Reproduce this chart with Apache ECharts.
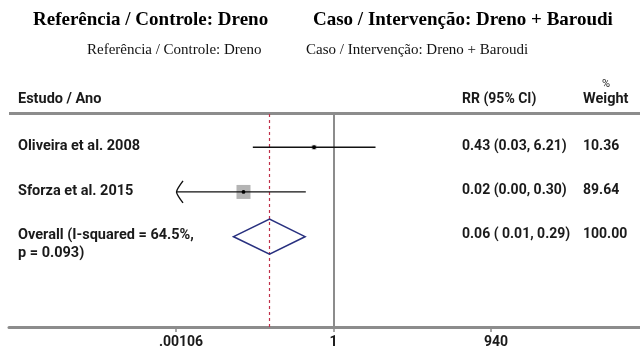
<!DOCTYPE html>
<html>
<head>
<meta charset="utf-8">
<script src="https://cdn.jsdelivr.net/npm/echarts@6/dist/echarts.min.js"></script>
<style>html,body{margin:0;padding:0;background:#fff}#c{width:640px;height:351px}</style>
</head>
<body>
<div id="c"></div>
<script>
// ---- data ----
const studies = ['Oliveira et al. 2008', 'Sforza et al. 2015'];
const rr = [0.43, 0.02];
const ciLow = [0.03, 0.00];
const ciHigh = [6.21, 0.30];
const weights = [10.36, 89.64];
const rrText = ['0.43 (0.03, 6.21)', '0.02 (0.00, 0.30)'];
const weightText = ['10.36', '89.64'];
const overallLabel = ['Overall (I-squared = 64.5%,', 'p = 0.093)'];
const overallRR = 0.062;
const overallLow = 0.013;
const overallHigh = 0.29;
const overallText = '0.06 ( 0.01, 0.29)';
const overallWeight = '100.00';
const tickLabels = ['.00106', '1', '940'];
const axisMin = 1 / 940;
const axisMax = 940;

const SANS = 'Roboto';
const SERIF = '"Liberation Serif", "Times New Roman", serif';
const chart = echarts.init(document.getElementById('c'), null, {renderer: 'canvas'});

const studyData = studies.map((s, i) => [rr[i], ciLow[i], ciHigh[i], i + 1, weights[i]]);
const maxW = Math.max(...weights);
const overallRow = studies.length + 1;

const textStyleBody = {fontFamily: SANS, fontSize: 14, fontWeight: 'bold', fill: '#1a1a1a'};
const textStyleWords = Object.assign({}, textStyleBody, {fontSize: 14.5});

const option = {
  animation: false,
  backgroundColor: '#fff',
  grid: [
    {left: 176, right: 149, top: 114, bottom: 24},
    {left: 9, right: 0, top: 114, bottom: 24}
  ],
  xAxis: [
    {
      type: 'log', logBase: 940, min: axisMin, max: axisMax, gridIndex: 0,
      axisLine: {show: false},
      axisTick: {show: true, length: 5, lineStyle: {color: '#8c8c8c', width: 1.5}},
      splitLine: {show: false},
      axisLabel: {
        margin: 8, color: '#1a1a1a', fontFamily: SANS, fontSize: 14, fontWeight: 'bold',
        formatter: (v, idx) => {
          const t = tickLabels[idx] !== undefined ? tickLabels[idx] : '';
          return idx === 1 ? t : '{s|' + t + '}';
        },
        rich: {s: {padding: [0, 0, 0, 10], fontFamily: SANS, fontSize: 14, fontWeight: 'bold', color: '#1a1a1a'}}
      }
    },
    {
      type: 'value', gridIndex: 1, min: 0, max: 1,
      axisLine: {show: true, lineStyle: {color: '#8c8c8c', width: 3}},
      axisTick: {show: false}, axisLabel: {show: false}, splitLine: {show: false}
    }
  ],
  yAxis: [
    {type: 'value', inverse: true, min: 0.256, max: 5.022, gridIndex: 0, show: false},
    {type: 'value', gridIndex: 1, show: false}
  ],
  graphic: [
    {type: 'text', left: 33, top: 11, style: {text: 'Referência / Controle: Dreno', font: 'bold 19px ' + SERIF, fill: '#000'}},
    {type: 'text', left: 313, top: 11, style: {text: 'Caso / Intervenção: Dreno + Baroudi', font: 'bold 19px ' + SERIF, fill: '#000'}},
    {type: 'text', left: 87, top: 43, style: {text: 'Referência / Controle: Dreno', font: '15px ' + SERIF, fill: '#111'}},
    {type: 'text', left: 306, top: 43, style: {text: 'Caso / Intervenção: Dreno + Baroudi', font: '15px ' + SERIF, fill: '#111'}},
    {type: 'text', x: 18, y: 99, style: Object.assign({text: 'Estudo / Ano', verticalAlign: 'middle'}, textStyleWords)},
    {type: 'text', x: 462, y: 99, style: Object.assign({text: 'RR (95% CI)', verticalAlign: 'middle'}, textStyleBody)},
    {type: 'text', x: 606, y: 84, style: Object.assign({text: '%', verticalAlign: 'middle', align: 'center'}, textStyleBody, {fontSize: 11, fontWeight: 'normal'})},
    {type: 'text', x: 583, y: 99, style: Object.assign({text: 'Weight', verticalAlign: 'middle'}, textStyleWords)},
    {type: 'line', shape: {x1: 9, y1: 113.5, x2: 640, y2: 113.5}, style: {stroke: '#8c8c8c', lineWidth: 3}}
  ],
  series: [
    {
      type: 'custom', name: 'studies', xAxisIndex: 0, yAxisIndex: 0, clip: false, z: 5,
      data: studyData,
      renderItem: (params, api) => {
        const est = api.value(0), lo = api.value(1), hi = api.value(2), row = api.value(3), w = api.value(4);
        const clippedLo = lo < axisMin;
        const pLo = api.coord([clippedLo ? axisMin : lo, row]);
        const pHi = api.coord([hi, row]);
        const pc = api.coord([est, row]);
        const side = 14 * Math.sqrt(w / maxW);
        const children = [
          {type: 'rect', shape: {x: pc[0] - side / 2, y: pc[1] - side / 2, width: side, height: side}, style: {fill: '#b4b4b4'}},
          {type: 'line', shape: {x1: pLo[0], y1: pLo[1], x2: pHi[0], y2: pHi[1]}, style: {stroke: '#111', lineWidth: 1.3}},
          {type: 'circle', shape: {cx: pc[0], cy: pc[1], r: 1.9}, style: {fill: '#000'}}
        ];
        if (clippedLo) {
          children.push({type: 'polyline', shape: {points: [[pLo[0] + 7, pLo[1] - 11], [pLo[0] + 0.5, pLo[1]], [pLo[0] + 7, pLo[1] + 11]], smooth: 0.2}, style: {stroke: '#111', lineWidth: 1.4, fill: null}});
        }
        return {type: 'group', children};
      },
      markLine: {
        silent: true, symbol: 'none', z: 1, label: {show: false},
        lineStyle: {color: '#8c8c8c', width: 2, type: 'solid'},
        data: [{xAxis: 1}]
      }
    },
    {
      type: 'custom', name: 'overall', xAxisIndex: 0, yAxisIndex: 0, clip: false, z: 6,
      data: [[overallRR, overallLow, overallHigh, overallRow]],
      renderItem: (params, api) => {
        const row = api.value(3);
        const pc = api.coord([api.value(0), row]);
        const pl = api.coord([api.value(1), row]);
        const ph = api.coord([api.value(2), row]);
        const hh = 17.5;
        return {
          type: 'polygon',
          shape: {points: [[pl[0], pc[1]], [pc[0], pc[1] - hh], [ph[0], pc[1]], [pc[0], pc[1] + hh]]},
          style: {stroke: '#28307f', lineWidth: 1.6, fill: null}
        };
      },
      markLine: {
        silent: true, symbol: 'none', z: 1, label: {show: false},
        lineStyle: {color: '#c0304a', width: 1.2, type: [3, 3], opacity: 1},
        data: [{xAxis: overallRR}]
      }
    },
    {
      type: 'custom', name: 'table', xAxisIndex: 0, yAxisIndex: 0, clip: false, z: 7,
      data: studies.map((s, i) => [1, i + 1, i]).concat([[1, overallRow, -1]]),
      renderItem: (params, api) => {
        const row = api.value(1), idx = api.value(2);
        const y = api.coord([1, row])[1] - 1;
        const mk = (x, yy, t, st) => ({type: 'text', x: x, y: yy, style: Object.assign({text: t, verticalAlign: 'middle'}, st || textStyleBody)});
        if (idx >= 0) {
          return {type: 'group', children: [mk(18, y, studies[idx], textStyleWords), mk(462, y, rrText[idx]), mk(583, y, weightText[idx])]};
        }
        return {type: 'group', children: [mk(18, y, overallLabel[0], textStyleWords), mk(18, y + 18, overallLabel[1], textStyleWords), mk(462, y - 1, overallText), mk(583, y - 1, overallWeight)]};
      }
    },
    {
      type: 'line', xAxisIndex: 1, yAxisIndex: 1, data: [], silent: true
    }
  ]
};
chart.setOption(option);
</script>
</body>
</html>
